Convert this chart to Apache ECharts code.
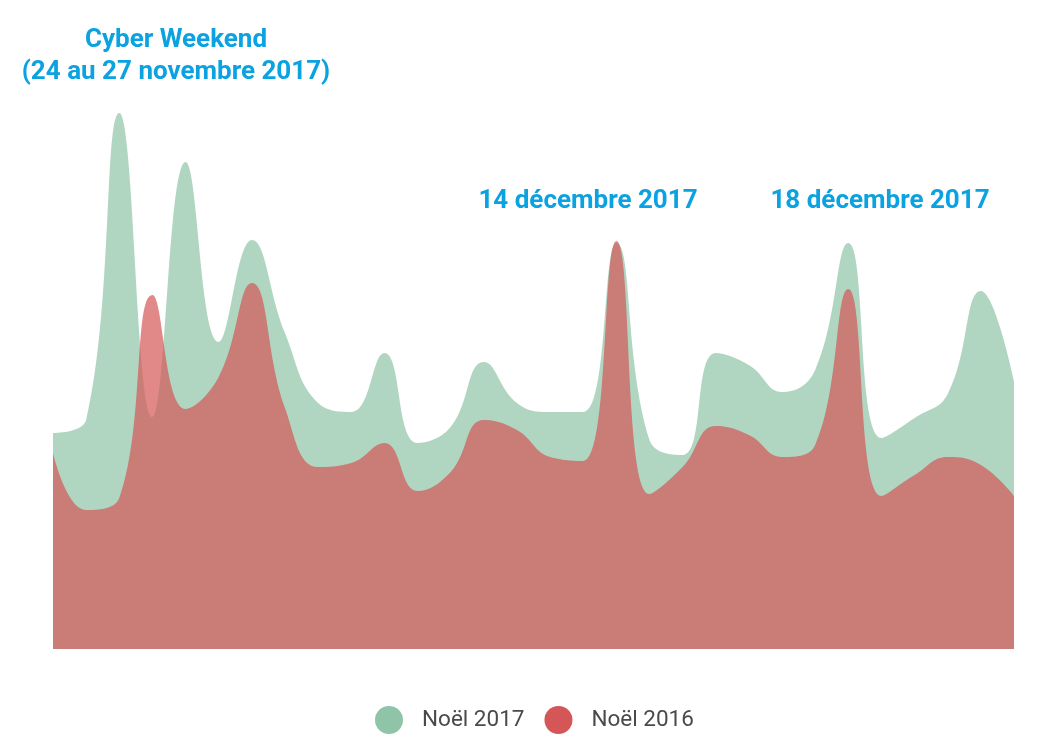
<!DOCTYPE html>
<html>

<head>
    <meta charset="UTF-8">
    <title>Noël 2017 / Noël 2016</title>
    <style>
        html, body { margin: 0; padding: 0; background: #fff; }
    </style>
</head>

<body>
    <div id="container" style="width: 1060px;height: 749px;"></div>
    <script src="https://cdn.jsdelivr.net/npm/echarts@6/dist/echarts.min.js"></script>
    <script type="text/javascript">
        // jours de la période (axe caché)
        var days = ['J1', 'J2', 'J3', 'J4', 'J5', 'J6', 'J7', 'J8', 'J9', 'J10',
            'J11', 'J12', 'J13', 'J14', 'J15', 'J16', 'J17', 'J18', 'J19', 'J20',
            'J21', 'J22', 'J23', 'J24', 'J25', 'J26', 'J27', 'J28', 'J29', 'J30'];

        // valeurs relatives
        var noel2017 = [216, 229, 536, 232, 487, 307, 409, 316, 246, 237,
            296, 206, 222, 287, 246, 237, 237, 406, 209, 194,
            296, 284, 257, 279, 406, 211, 231, 255, 358, 268];
        var noel2016 = [196, 139, 151, 354, 240, 272, 366, 241, 182, 186,
            206, 158, 177, 229, 219, 192, 188, 408, 155, 182,
            223, 214, 192, 204, 360, 153, 174, 192, 184, 153];

        var seriesNames = ['Noël 2017', 'Noël 2016'];
        var colors = ['#8fc4a8', '#d45656'];

        // annotations : texte et position
        var notes = [
            { text: 'Cyber Weekend', x: 176, y: 40 },
            { text: '(24 au 27 novembre 2017)', x: 176, y: 72 },
            { text: '14 décembre 2017', x: 588, y: 201 },
            { text: '18 décembre 2017', x: 880, y: 201 }
        ];

        var myChart = echarts.init(document.getElementById('container'));
        var option = {
            animation: false,
            color: colors,
            grid: {
                left: 53,
                right: 46,
                top: 100,
                bottom: 100
            },
            legend: {
                bottom: 10,
                left: 370,
                icon: 'circle',
                itemWidth: 28,
                itemHeight: 28,
                itemGap: 20,
                data: seriesNames,
                textStyle: {
                    color: '#4a4a4a',
                    fontSize: 22.5,
                    fontFamily: 'Roboto',
                    padding: [0, 0, 0, 14]
                }
            },
            xAxis: {
                type: 'category',
                data: days,
                boundaryGap: false,
                show: false
            },
            yAxis: {
                type: 'value',
                min: 0,
                max: 549,
                show: false
            },
            graphic: notes.map(function (n) {
                return {
                    type: 'text',
                    x: n.x,
                    y: n.y,
                    z: 10,
                    style: {
                        text: n.text,
                        fill: '#0aa2e0',
                        font: 'bold 26px Roboto',
                        align: 'center',
                        verticalAlign: 'middle'
                    }
                };
            }),
            series: [{
                name: seriesNames[0],
                type: 'line',
                data: noel2017,
                smooth: 0.45,
                symbol: 'none',
                lineStyle: { width: 0 },
                areaStyle: { opacity: 0.7 }
            }, {
                name: seriesNames[1],
                type: 'line',
                data: noel2016,
                smooth: 0.45,
                symbol: 'none',
                lineStyle: { width: 0 },
                areaStyle: { opacity: 0.7 }
            }]
        };
        myChart.setOption(option);
    </script>
</body>

</html>
